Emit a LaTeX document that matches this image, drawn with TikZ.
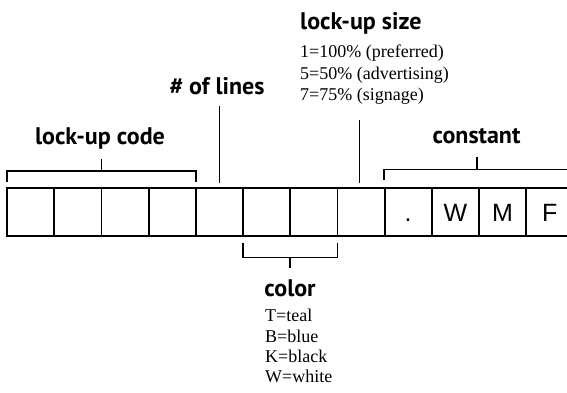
\documentclass[tikz,border=0pt]{standalone}
\usepackage{fontspec}
\setmainfont{Liberation Serif}
\newfontfamily\headfont{PT Sans}
\newfontfamily\cellfont{Liberation Sans}
\begin{document}
\begin{tikzpicture}[x=1pt,y=-1pt,
  cellbox/.style={draw, line width=1.8pt, minimum width=47.2pt, minimum height=48pt,
    inner sep=0pt, outer sep=0pt, text height=18pt, text depth=0pt,
    font=\cellfont\fontsize{25}{25}\selectfont},
  head/.style={font=\headfont\bfseries\fontsize{24}{24}\selectfont, inner sep=0pt, anchor=base},
  desc/.style={font=\fontsize{18}{18}\selectfont, inner sep=0pt, anchor=base west},
  brack/.style={line width=1.8pt}]
\useasboundingbox (0,0) rectangle (567,393);
\clip (0,0) rectangle (567,393);
% cells
\foreach \k/\t in {0/,1/,2/,3/,4/,5/,6/,7/,8/.,9/W,10/M,11/F}{
  \node[cellbox] (c\k) at ({30.6+47.2*\k},212) {\t};
}
% lock-up code
\coordinate (lcL) at (7,182);
\coordinate (lcR) at (195.8,182);
\coordinate (lcS) at (101.4,159);
\draw[brack] (lcL) -- ++(0,-11) -| (lcR);
\draw[brack] (lcS) -- ++(0,12);
\node[head] (lc) at (100,144) {lock-up code};
% # of lines
\node[head] (nl) at (217,95) {\# of lines};
\coordinate (nlT) at (219.4,106);
\coordinate (nlB) at (219.4,183);
\draw[brack] (nlT) -- (nlB);
% lock-up size
\node[head, anchor=base west] (ls) at (300,30) {lock-up size};
\node[desc] (ls1) at (300,58) {1=100\% (preferred)};
\node[desc] (ls2) at (300,80) {5=50\% (advertising)};
\node[desc] (ls3) at (300,101) {7=75\% (signage)};
\coordinate (lsT) at (359.5,120);
\coordinate (lsB) at (359.5,183);
\draw[brack] (lsT) -- (lsB);
% constant
\node[head] (ct) at (476.5,143) {constant};
\coordinate (ctL) at (384,180);
\coordinate (ctR) at (571,180);
\coordinate (ctS) at (477,157);
\draw[brack] (ctL) -- ++(0,-10.5) -| (ctR);
\draw[brack] (ctS) -- ++(0,12.5);
% color
\coordinate (coL) at (243,243);
\coordinate (coR) at (337.4,243);
\coordinate (coS) at (290.2,268);
\draw[brack] (coL) -- ++(0,14.5) -| (coR);
\draw[brack] (coS) -- ++(0,-10.5);
\node[head] (co) at (290,296) {color};
\node[desc] (co1) at (265,321) {T=teal};
\node[desc] (co2) at (265,342) {B=blue};
\node[desc] (co3) at (265,362) {K=black};
\node[desc] (co4) at (265,382.5) {W=white};
\end{tikzpicture}
\end{document}
